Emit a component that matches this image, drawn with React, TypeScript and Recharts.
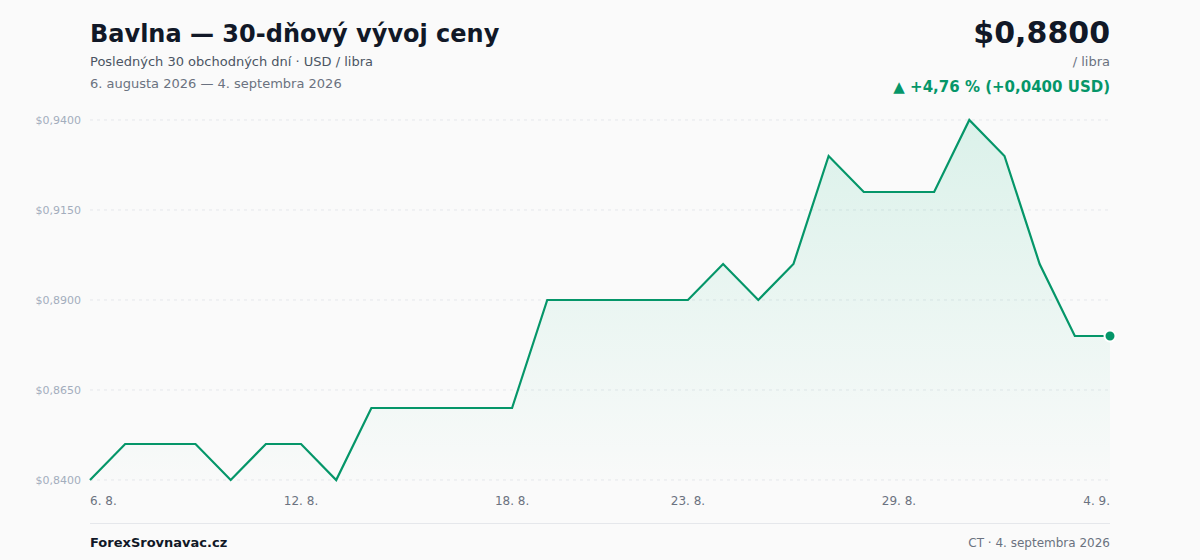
import React from 'react';
import { AreaChart, Area, XAxis, YAxis, CartesianGrid } from 'recharts';

// 30 calendar days, 6. 8. 2026 – 4. 9. 2026
const DATES = [
  '6. 8.', '7. 8.', '8. 8.', '9. 8.', '10. 8.', '11. 8.', '12. 8.', '13. 8.', '14. 8.', '15. 8.',
  '16. 8.', '17. 8.', '18. 8.', '19. 8.', '20. 8.', '21. 8.', '22. 8.', '23. 8.', '24. 8.', '25. 8.',
  '26. 8.', '27. 8.', '28. 8.', '29. 8.', '30. 8.', '31. 8.', '1. 9.', '2. 9.', '3. 9.', '4. 9.',
];

const PRICES = [
  0.84, 0.85, 0.85, 0.85, 0.84, 0.85, 0.85, 0.84, 0.86, 0.86,
  0.86, 0.86, 0.86, 0.89, 0.89, 0.89, 0.89, 0.89, 0.90, 0.89,
  0.90, 0.93, 0.92, 0.92, 0.92, 0.94, 0.93, 0.90, 0.88, 0.88,
];

const X_TICKS = ['6. 8.', '12. 8.', '18. 8.', '23. 8.', '29. 8.', '4. 9.'];
const Y_TICKS = [0.84, 0.865, 0.89, 0.915, 0.94];

const GREEN = '#059669';
const FILL = '#10b981';
const FONT = '"DejaVu Sans", Verdana, sans-serif';

const data = DATES.map((d, i) => ({ date: d, price: PRICES[i] }));

const fmtUsd = (v: number) => '$' + v.toFixed(4).replace('.', ',');

const XTick = ({ x, y, payload }: any) => {
  const anchor = payload.value === DATES[0] ? 'start' : payload.value === DATES[DATES.length - 1] ? 'end' : 'middle';
  return (
    <text x={x} y={y + 17} textAnchor={anchor} fill="#6b7280" fontSize={12} fontFamily={FONT}>
      {payload.value}
    </text>
  );
};

const YTick = ({ x, y, payload }: any) => (
  <text x={x - 1} y={y + 4} textAnchor="end" fill="#a3adbd" fontSize={11} fontFamily={FONT}>
    {fmtUsd(payload.value)}
  </text>
);

const LastDot = (props: any) => {
  const { cx, cy, index } = props;
  if (index !== PRICES.length - 1) return <g key={`d-${index}`} />;
  return <circle key={`d-${index}`} cx={cx} cy={cy} r={5.5} fill={GREEN} stroke="#ffffff" strokeWidth={2} />;
};

export default function App() {
  const last = PRICES[PRICES.length - 1];
  const first = PRICES[0];
  const diff = last - first;
  const pct = (diff / first) * 100;

  return (
    <div style={{ position: 'absolute', left: 0, top: 0, width: 1200, height: 560, background: '#fafafa', overflow: 'hidden' }}>
      <AreaChart width={1200} height={560} data={data} margin={{ top: 120, right: 90, bottom: 50, left: 0 }}>
        <defs>
          <linearGradient id="fillGreen" x1="0" y1="0" x2="0" y2="1">
            <stop offset="0%" stopColor={FILL} stopOpacity={0.22} />
            <stop offset="100%" stopColor={FILL} stopOpacity={0.01} />
          </linearGradient>
        </defs>
        <CartesianGrid vertical={false} stroke="#e5e7eb" strokeDasharray="3 4" />
        <XAxis
          dataKey="date"
          ticks={X_TICKS}
          interval={0}
          axisLine={false}
          tickLine={false}
          height={30}
          tick={<XTick />}
        />
        <YAxis
          domain={[0.84, 0.94]}
          ticks={Y_TICKS}
          axisLine={false}
          tickLine={false}
          width={90}
          tick={<YTick />}
        />
        <Area
          type="linear"
          dataKey="price"
          stroke={GREEN}
          strokeWidth={2.2}
          fill="url(#fillGreen)"
          dot={<LastDot />}
          activeDot={false}
          isAnimationActive={false}
        />
      </AreaChart>

      <svg width={1200} height={560} style={{ position: 'absolute', left: 0, top: 0, pointerEvents: 'none' }}>
        <g fontFamily={FONT}>
          <text x={90} y={42} fontSize={24} fontWeight="bold" fill="#111827">Bavlna — 30-dňový vývoj ceny</text>
          <text x={90} y={66} fontSize={13} fill="#4b5563">Posledných 30 obchodných dní · USD / libra</text>
          <text x={90} y={88} fontSize={13} fill="#6b7280">6. augusta 2026 — 4. septembra 2026</text>

          <text x={1110} y={43} fontSize={30} fontWeight="bold" fill="#111827" textAnchor="end">{fmtUsd(last)}</text>
          <text x={1110} y={66} fontSize={13} fill="#6b7280" textAnchor="end">/ libra</text>
          <text x={1110} y={92} fontSize={15} fontWeight="bold" fill={GREEN} textAnchor="end">
            {`▲ +${pct.toFixed(2).replace('.', ',')} % (+${diff.toFixed(4).replace('.', ',')} USD)`}
          </text>

          <line x1={90} x2={1110} y1={523.5} y2={523.5} stroke="#e5e7eb" strokeWidth={1} />
          <text x={90} y={547} fontSize={13} fontWeight="bold" fill="#111827">ForexSrovnavac.cz</text>
          <text x={1110} y={547} fontSize={12} fill="#6b7280" textAnchor="end">CT · 4. septembra 2026</text>
        </g>
      </svg>
    </div>
  );
}
